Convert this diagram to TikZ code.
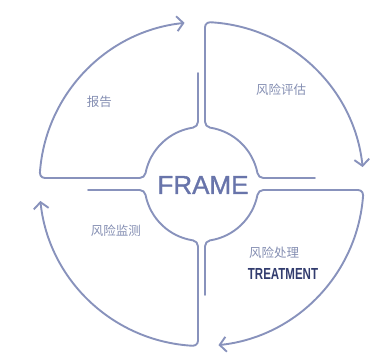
\documentclass[tikz,border=0pt]{standalone}
\usepackage{fontspec}
\setmainfont{Liberation Sans}
\newfontfamily\cjk{Noto Sans CJK SC}
\newfontfamily\framefont[FakeBold=1.2]{Liberation Sans}
\usetikzlibrary{arrows.meta}
\definecolor{linec}{RGB}{136,146,188}
\definecolor{framec}{RGB}{104,116,170}
\definecolor{cjkc}{RGB}{132,142,178}
\definecolor{treatc}{RGB}{50,60,110}
\tikzset{
  ring/.style={draw=linec, line width=1.9pt, line cap=round, line join=round},
  ringarrow/.style={ring, -{Straight Barb[length=6.5pt,width=15pt,line width=1.9pt]}},
  cjklabel/.style={text=cjkc, font=\cjk\fontsize{12.5}{14}\selectfont, inner sep=0pt},
}
\begin{document}
\begin{tikzpicture}[x=1pt,y=1pt]
\useasboundingbox (-201.5,-170) rectangle (170.5,184);
% top-left quadrant
\draw[ringarrow] (-3.5,111) -- (-3.5,62.28)
  arc[start angle=0,end angle=-81.33,radius=6]
  arc[start angle=98.67,end angle=169.02,radius=57]
  arc[start angle=-10.98,end angle=-90,radius=6]
  -- (-156.61,6)
  arc[start angle=-90,end angle=-184.02,radius=5]
  arc[start angle=175.98,end angle=96,radius=162];
% top-right quadrant
\draw[ringarrow] (113.5,6) -- (61.85,6)
  arc[start angle=-90,end angle=-169.02,radius=6]
  arc[start angle=10.98,end angle=81.33,radius=57]
  arc[start angle=-98.67,end angle=-180,radius=6]
  -- (3.5,156.77)
  arc[start angle=180,end angle=86.9,radius=5]
  arc[start angle=86.9,end angle=6,radius=162];
% bottom-right quadrant
\draw[ringarrow] (3.5,-111) -- (3.5,-62.28)
  arc[start angle=180,end angle=98.67,radius=6]
  arc[start angle=-81.33,end angle=-10.98,radius=57]
  arc[start angle=169.02,end angle=90,radius=6]
  -- (156.61,-6)
  arc[start angle=90,end angle=-4.02,radius=5]
  arc[start angle=-4.02,end angle=-84,radius=162];
% bottom-left quadrant
\draw[ringarrow] (-113.5,-6) -- (-61.85,-6)
  arc[start angle=90,end angle=10.98,radius=6]
  arc[start angle=190.98,end angle=261.33,radius=57]
  arc[start angle=81.33,end angle=0,radius=6]
  -- (-3.5,-156.77)
  arc[start angle=0,end angle=-93.1,radius=5]
  arc[start angle=266.9,end angle=186,radius=162];
% labels
\node[text=framec, font=\framefont\fontsize{26}{30}\selectfont, inner sep=0pt] (frame) at (1.5,-1) {FRAME};
\node[cjklabel] (report) at (-102,82) {报告};
\node[cjklabel] (assess) at (79.5,94) {风险评估};
\node[cjklabel] (monitor) at (-85.5,-47) {风险监测};
\node[cjklabel] (treat) at (72.5,-69) {风险处理};
\node[text=treatc, font=\bfseries\fontsize{16}{18}\selectfont, inner sep=0pt] (treaten) at (81.5,-90) {\scalebox{0.72}[1]{TREATMENT}};
\end{tikzpicture}
\end{document}
